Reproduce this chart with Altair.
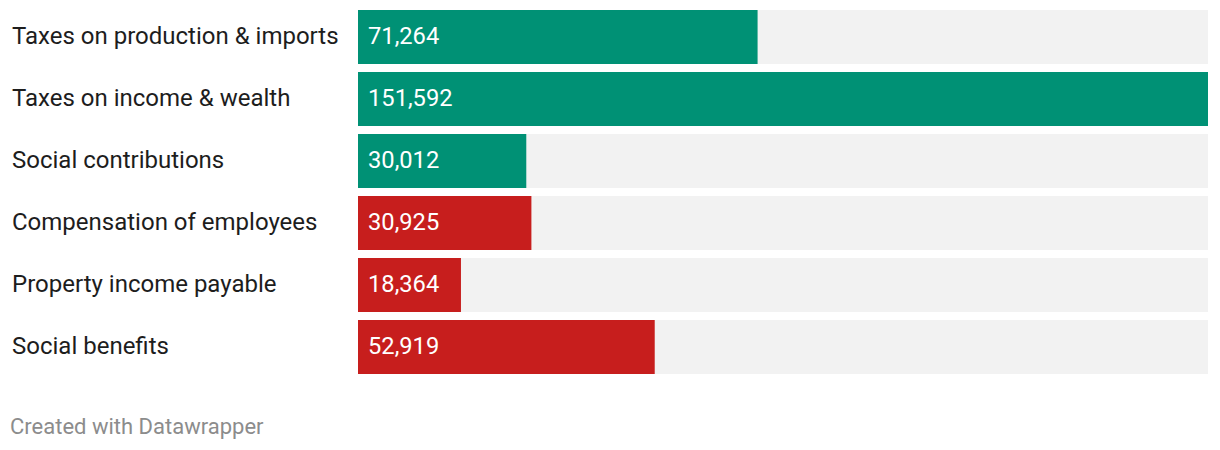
import altair as alt
import pandas as pd

categories = [
    "Taxes on production & imports",
    "Taxes on income & wealth",
    "Social contributions",
    "Compensation of employees",
    "Property income payable",
    "Social benefits",
]
values = [71264, 151592, 30012, 30925, 18364, 52919]
groups = ["revenue", "revenue", "revenue", "spending", "spending", "spending"]

df = pd.DataFrame({"category": categories, "value": values, "group": groups})

FONT = "Roboto"
y_enc = alt.Y("category:N", sort=categories, axis=None,
              scale=alt.Scale(paddingInner=8 / 62, paddingOuter=0))
x_scale = alt.Scale(domain=[0, max(values)], nice=False, zero=True)

base = alt.Chart(df)

bg = base.transform_joinaggregate(full="max(value)").mark_bar(
    color="#f2f2f2", cornerRadius=0
).encode(
    x=alt.X("full:Q", scale=x_scale, axis=None),
    y=y_enc,
)

bars = base.mark_bar(cornerRadius=0).encode(
    x=alt.X("value:Q", scale=x_scale, axis=None),
    y=y_enc,
    color=alt.Color("group:N",
                    scale=alt.Scale(domain=["revenue", "spending"],
                                    range=["#009175", "#c71e1d"]),
                    legend=None),
)

vals = base.mark_text(align="left", baseline="middle", color="white",
                      font=FONT, fontSize=23.7, dx=10).encode(
    x=alt.value(0),
    y=y_enc,
    text=alt.Text("value:Q", format=",.0f"),
)

labels = base.mark_text(align="left", baseline="middle", color="#1d1d1d",
                        font=FONT, fontSize=24).encode(
    x=alt.value(-346),
    y=y_enc,
    text="category:N",
)

footer = alt.Chart(pd.DataFrame({"t": ["Created with Datawrapper"]})).mark_text(
    align="left", baseline="middle", color="#8c8c8c", font=FONT, fontSize=22
).encode(x=alt.value(-348), y=alt.value(417), text="t:N")

chart = alt.layer(bg, bars, vals, labels, footer).properties(
    width=850, height=364,
    autosize=alt.AutoSizeParams(type="none"),
    padding={"left": 350, "top": 2, "right": 4, "bottom": 70},
).configure_view(stroke=None)

chart.save("out.html", embed_options={"renderer": "svg", "actions": False})
